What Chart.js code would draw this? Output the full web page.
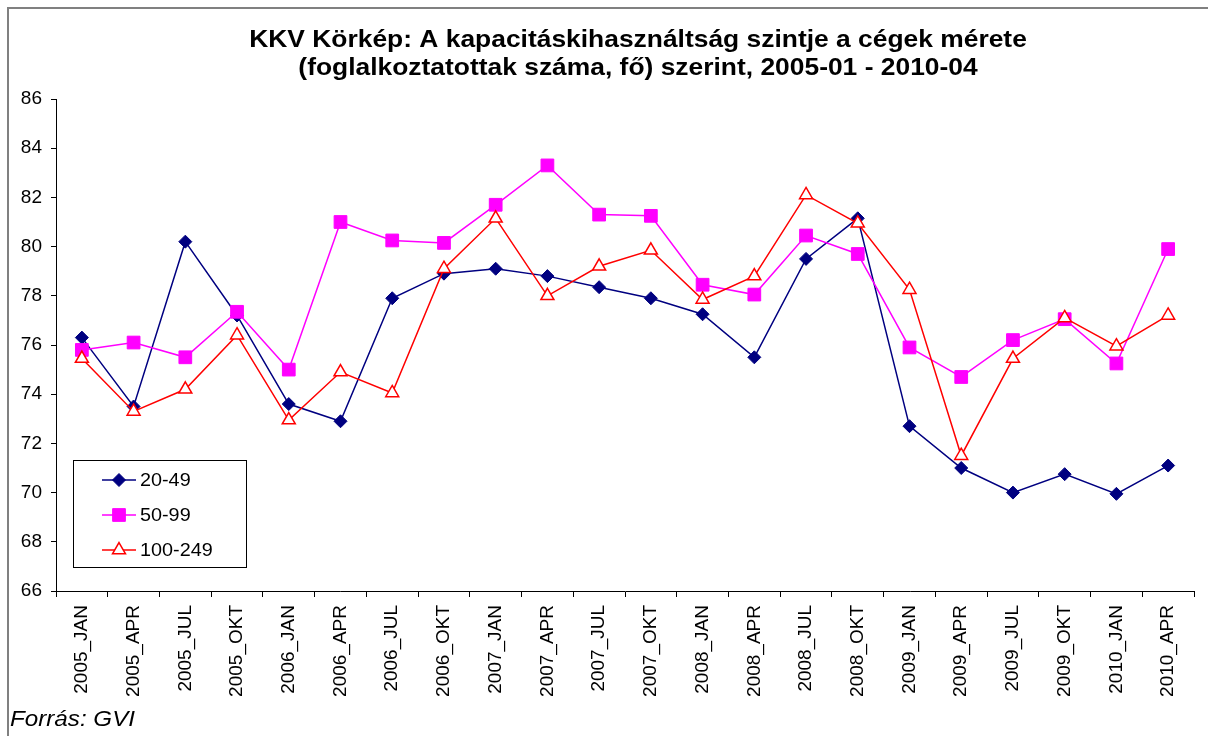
<!DOCTYPE html>
<html>
<head>
<meta charset="utf-8">
<script src="https://cdn.jsdelivr.net/npm/chart.js@4.4.1/dist/chart.umd.min.js"></script>
<style>
  html, body { margin: 0; padding: 0; background: #fff; }
  #wrap { position: relative; width: 1208px; height: 736px; overflow: hidden; }
  #frame { position: absolute; left: 7px; top: 7px; width: 1260px; height: 800px; border: 2px solid #808080; box-sizing: border-box; }
  canvas { position: absolute; left: 0; top: 0; }
</style>
</head>
<body>
<div id="wrap">
  <div id="frame"></div>
  <canvas id="chart" width="1208" height="736"></canvas>
</div>
<script>
const FONT = "'Liberation Sans', Arial, sans-serif";

/* DATA */
const periods = [
  "2005_JAN","2005_APR","2005_JUL","2005_OKT",
  "2006_JAN","2006_APR","2006_JUL","2006_OKT",
  "2007_JAN","2007_APR","2007_JUL","2007_OKT",
  "2008_JAN","2008_APR","2008_JUL","2008_OKT",
  "2009_JAN","2009_APR","2009_JUL","2009_OKT",
  "2010_JAN","2010_APR"
];
const size20_49 = [76.3,73.5,80.2,77.2, 73.6,72.9,77.9,78.9, 79.1,78.8,78.35,77.9, 77.25,75.5,79.5,81.15, 72.7,71.0,70.0,70.75, 69.95,71.1];
const size50_99 = [75.8,76.1,75.5,77.35, 75.0,81.0,80.25,80.15, 81.7,83.3,81.3,81.25, 78.45,78.05,80.45,79.7, 75.9,74.7,76.2,77.05, 75.25,79.9];
const size100_249 = [75.45,73.3,74.2,76.4, 72.95,74.9,74.05,79.1, 81.15,78.0,79.2,79.85, 77.85,78.8,82.1,80.95, 78.25,71.5,75.45,77.1, 75.95,77.2];
const seriesNames = ["20-49","50-99","100-249"];
const yMin = 66, yMax = 86, yStep = 2;

const titleLines = [
  "KKV Körkép: A kapacitáskihasználtság szintje a cégek mérete",
  "(foglalkoztatottak száma, fő) szerint, 2005-01 - 2010-04"
];
const sourceText = "Forrás: GVI";

// draws text a bit wider, like the original export
function wideText(ctx, text, x, y, sx) {
  ctx.save();
  ctx.translate(x, y);
  ctx.scale(sx, 1);
  ctx.fillText(text, 0, 0);
  ctx.restore();
}

/* TITLE, LEGEND BOX, SOURCE */
const decor = {
  id: "decor",
  afterDraw(chart) {
    const ctx = chart.ctx;
    ctx.save();
    ctx.fillStyle = "#000";
    ctx.textBaseline = "middle";

    // title
    ctx.textAlign = "center";
    ctx.font = "bold 24px " + FONT;
    titleLines.forEach((t, i) => wideText(ctx, t, 638, 40 + i * 28, 1.1));

    // legend
    ctx.fillStyle = "#fff";
    ctx.fillRect(73.5, 460.5, 173, 107);
    ctx.strokeStyle = "#000";
    ctx.lineWidth = 1;
    ctx.strokeRect(73.5, 460.5, 173, 107);

    chart.data.datasets.forEach((ds, i) => {
      const y = 480 + i * 35;
      ctx.strokeStyle = ds.borderColor;
      ctx.lineWidth = ds.borderWidth;
      ctx.beginPath();
      ctx.moveTo(102, y);
      ctx.lineTo(136, y);
      ctx.stroke();

      ctx.fillStyle = ds.pointBackgroundColor;
      ctx.strokeStyle = ds.pointBorderColor;
      ctx.lineWidth = ds.pointBorderWidth;
      Chart.helpers.drawPoint(ctx, {
        pointStyle: ds.pointStyle,
        radius: ds.pointRadius,
        rotation: 0,
        borderWidth: ds.pointBorderWidth
      }, 119, y);

      ctx.fillStyle = "#000";
      ctx.textAlign = "left";
      ctx.font = "18px " + FONT;
      wideText(ctx, ds.label, 140, y + 1, 1.1);
    });

    // source
    ctx.textAlign = "left";
    ctx.font = "italic 22px " + FONT;
    wideText(ctx, sourceText, 10, 720, 1.1);
    ctx.restore();
  }
};

new Chart(document.getElementById("chart"), {
  type: "line",
  data: {
    labels: periods,
    datasets: [
      {
        label: seriesNames[0],
        data: size20_49,
        borderColor: "#000080",
        borderWidth: 1.5,
        pointStyle: "rectRot",
        pointRadius: 6.5,
        pointBackgroundColor: "#000080",
        pointBorderColor: "#000080",
        pointBorderWidth: 1,
        order: 3
      },
      {
        label: seriesNames[1],
        data: size50_99,
        borderColor: "#FF00FF",
        borderWidth: 1.5,
        pointStyle: "rect",
        pointRadius: 9,
        pointBackgroundColor: "#FF00FF",
        pointBorderColor: "#FF00FF",
        pointBorderWidth: 1,
        order: 2
      },
      {
        label: seriesNames[2],
        data: size100_249,
        borderColor: "#FF0000",
        borderWidth: 1.5,
        pointStyle: "triangle",
        pointRadius: 7.5,
        pointBackgroundColor: "#FFFFFF",
        pointBorderColor: "#FF0000",
        pointBorderWidth: 1.5,
        order: 1
      }
    ]
  },
  options: {
    responsive: false,
    animation: false,
    devicePixelRatio: 1,
    layout: { padding: { left: 8, right: 14, top: 99, bottom: 0 } },
    elements: { line: { tension: 0 } },
    plugins: {
      legend: { display: false },
      title: { display: false },
      tooltip: { enabled: false }
    },
    scales: {
      x: {
        offset: true,
        grid: { offset: true, drawOnChartArea: false, tickLength: 6, color: "#000" },
        border: { color: "#000", width: 1 },
        ticks: {
          color: "#000",
          font: { size: 19, family: FONT },
          minRotation: 90,
          maxRotation: 90,
          autoSkip: false,
          padding: 8
        },
        afterFit(scale) { scale.height = 145; }
      },
      y: {
        min: yMin,
        max: yMax,
        grid: { drawOnChartArea: false, tickLength: 5, color: "#000" },
        border: { color: "#000", width: 1 },
        ticks: {
          stepSize: yStep,
          color: "#000",
          font: { size: 19, family: FONT },
          padding: 9
        },
        afterFit(scale) { scale.width = 48; }
      }
    }
  },
  plugins: [decor]
});
</script>
</body>
</html>
